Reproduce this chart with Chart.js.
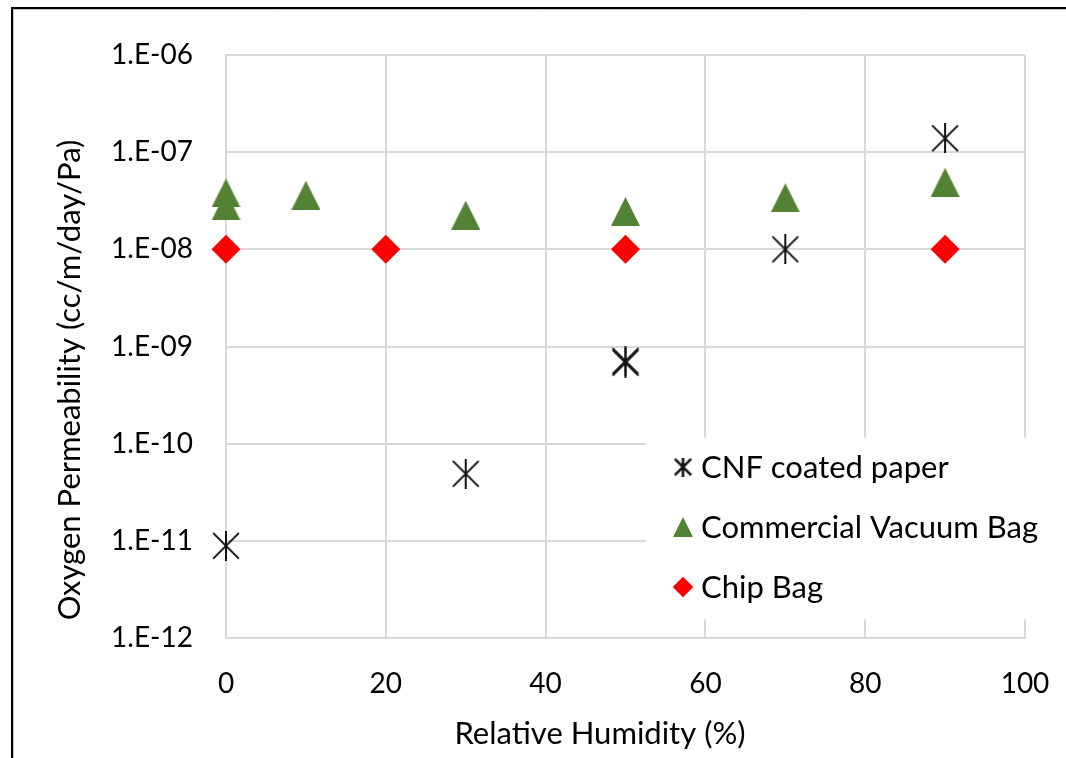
<!DOCTYPE html>
<html>
<head>
<meta charset="utf-8">
<title>Oxygen Permeability vs Relative Humidity</title>
<script src="https://cdn.jsdelivr.net/npm/chart.js@4.4.1/dist/chart.umd.min.js"></script>
<style>
  html, body { margin: 0; padding: 0; background: #ffffff; }
  #wrap { width: 1066px; height: 758px; }
</style>
</head>
<body>
<div id="wrap"><canvas id="chart" width="1066" height="758"></canvas></div>
<script>
// ---- data ----
const seriesNames = ['CNF coated paper', 'Commercial Vacuum Bag', 'Chip Bag'];

const cnfHumidity = [0, 30, 50, 50, 70, 90];
const cnfPermeability = [8.9e-12, 4.9e-11, 6.8e-10, 7.1e-10, 1.0e-8, 1.39e-7];

const vacuumHumidity = [0, 0, 10, 30, 50, 70, 90];
const vacuumPermeability = [3.8e-8, 2.8e-8, 3.6e-8, 2.25e-8, 2.45e-8, 3.4e-8, 4.9e-8];

const chipHumidity = [0, 20, 50, 90];
const chipPermeability = [1.0e-8, 1.0e-8, 1.0e-8, 1.0e-8];

const xTickValues = [0, 20, 40, 60, 80, 100];
const yTickValues = [1e-12, 1e-11, 1e-10, 1e-9, 1e-8, 1e-7, 1e-6];
const yTickLabels = ['1.E-12', '1.E-11', '1.E-10', '1.E-09', '1.E-08', '1.E-07', '1.E-06'];

const xTitle = 'Relative Humidity (%)';
const yTitle = 'Oxygen Permeability (cc/m/day/Pa)';

// ---- styling ----
const FONT = 'Lato, "Open Sans", sans-serif';
const TICK_SIZE = 28;
const TEXT_SIZE = 31;
const GRID = '#d9d9d9';
const GREEN = '#548235';
const RED = '#ff0000';

// asterisk marker: a vertical stroke plus two diagonals
function makeAsterisk(size, lw) {
  const c = document.createElement('canvas');
  c.width = size; c.height = size;
  const g = c.getContext('2d');
  g.strokeStyle = '#111111';
  g.lineWidth = lw;
  g.lineCap = 'butt';
  const m = size * 0.07;
  g.beginPath();
  g.moveTo(size / 2, 0); g.lineTo(size / 2, size);
  g.moveTo(m, m); g.lineTo(size - m, size - m);
  g.moveTo(size - m, m); g.lineTo(m, size - m);
  g.stroke();
  return c;
}

// filled triangle marker, apex up
function makeTriangle(w, h, color) {
  const c = document.createElement('canvas');
  c.width = w; c.height = h;
  const g = c.getContext('2d');
  g.fillStyle = color;
  g.beginPath();
  g.moveTo(w / 2, 0);
  g.lineTo(w, h);
  g.lineTo(0, h);
  g.closePath();
  g.fill();
  return c;
}

const asteriskBig = makeAsterisk(30, 2);
const asteriskSmall = makeAsterisk(19, 2.6);
const triangleBig = makeTriangle(29, 29, GREEN);
const triangleSmall = makeTriangle(20, 20, GREEN);

const toPoints = (xs, ys) => xs.map((x, i) => ({ x: x, y: ys[i] }));

// legend box drawn inside the plot, over the grid and under the markers
const insideLegend = {
  id: 'insideLegend',
  beforeDatasetsDraw(chart) {
    const ctx = chart.ctx;
    ctx.save();
    ctx.fillStyle = '#ffffff';
    ctx.fillRect(646, 438, 410, 181);
    const rows = [467, 527, 587];
    const markerX = 683;
    chart.data.datasets.forEach((ds, i) => {
      const y = rows[i];
      if (i === 0) ctx.drawImage(asteriskSmall, markerX - 9.5, y - 9.5);
      else if (i === 1) ctx.drawImage(triangleSmall, markerX - 10, y - 10);
      else {
        ctx.fillStyle = RED;
        Chart.helpers.drawPoint(ctx, { pointStyle: 'rectRot', radius: 10, borderWidth: 0 }, markerX, y);
        ctx.fill();
      }
      ctx.fillStyle = '#000000';
      ctx.font = TEXT_SIZE + 'px ' + FONT;
      ctx.textAlign = 'left';
      ctx.textBaseline = 'middle';
      ctx.fillText(ds.label, 701, y + 1);
    });
    ctx.restore();
  }
};

// axis titles and the outer frame of the chart
const frameAndTitles = {
  id: 'frameAndTitles',
  afterDraw(chart) {
    const ctx = chart.ctx;
    ctx.save();
    ctx.fillStyle = '#000000';
    ctx.font = TEXT_SIZE + 'px ' + FONT;
    ctx.textAlign = 'center';
    ctx.textBaseline = 'middle';
    ctx.fillText(xTitle, 600, 734);
    ctx.translate(70, 380);
    ctx.rotate(-Math.PI / 2);
    ctx.fillText(yTitle, 0, 0);
    ctx.restore();

    ctx.save();
    ctx.strokeStyle = '#c8c8c8';
    ctx.lineWidth = 1;
    ctx.beginPath();
    ctx.moveTo(13.5, 758); ctx.lineTo(13.5, 9.5); ctx.lineTo(1066, 9.5);
    ctx.stroke();
    ctx.strokeStyle = '#000000';
    ctx.lineWidth = 2;
    ctx.beginPath();
    ctx.moveTo(12, 758); ctx.lineTo(12, 8); ctx.lineTo(1066, 8);
    ctx.stroke();
    ctx.restore();
  }
};

new Chart(document.getElementById('chart'), {
  type: 'scatter',
  data: {
    datasets: [
      {
        label: seriesNames[0],
        data: toPoints(cnfHumidity, cnfPermeability),
        pointStyle: asteriskBig,
        pointRadius: 15,
        showLine: false,
        clip: false
      },
      {
        label: seriesNames[1],
        data: toPoints(vacuumHumidity, vacuumPermeability),
        pointStyle: triangleBig,
        pointRadius: 15,
        showLine: false,
        clip: false
      },
      {
        label: seriesNames[2],
        data: toPoints(chipHumidity, chipPermeability),
        pointStyle: 'rectRot',
        pointRadius: 14.5,
        backgroundColor: RED,
        borderColor: RED,
        borderWidth: 0,
        showLine: false,
        clip: false
      }
    ]
  },
  options: {
    responsive: false,
    animation: false,
    events: [],
    layout: { padding: { top: 55, right: 41, bottom: 0, left: 0 } },
    plugins: {
      legend: { display: false },
      tooltip: { enabled: false }
    },
    scales: {
      x: {
        type: 'linear',
        min: 0,
        max: 100,
        afterFit(scale) {
          scale.height = 120;
          scale.paddingLeft = 0;
          scale.paddingRight = 0;
        },
        afterBuildTicks(scale) { scale.ticks = xTickValues.map(v => ({ value: v })); },
        grid: { color: GRID, lineWidth: 2, drawTicks: false },
        border: { display: true, color: GRID, width: 2 },
        ticks: {
          padding: 29,
          color: '#000000',
          font: { family: FONT, size: TICK_SIZE },
          maxRotation: 0
        }
      },
      y: {
        type: 'logarithmic',
        min: 1e-12,
        max: 1e-6,
        afterFit(scale) {
          scale.width = 226;
          scale.paddingTop = 0;
          scale.paddingBottom = 0;
        },
        afterBuildTicks(scale) { scale.ticks = yTickValues.map(v => ({ value: v })); },
        grid: { color: GRID, lineWidth: 2, drawTicks: false },
        border: { display: true, color: GRID, width: 2 },
        ticks: {
          padding: 33,
          color: '#000000',
          font: { family: FONT, size: TICK_SIZE },
          callback(value) {
            const i = yTickValues.findIndex(v => Math.abs(Math.log10(v) - Math.log10(value)) < 1e-6);
            return i >= 0 ? yTickLabels[i] : '';
          }
        }
      }
    }
  },
  plugins: [insideLegend, frameAndTitles]
});
</script>
</body>
</html>
